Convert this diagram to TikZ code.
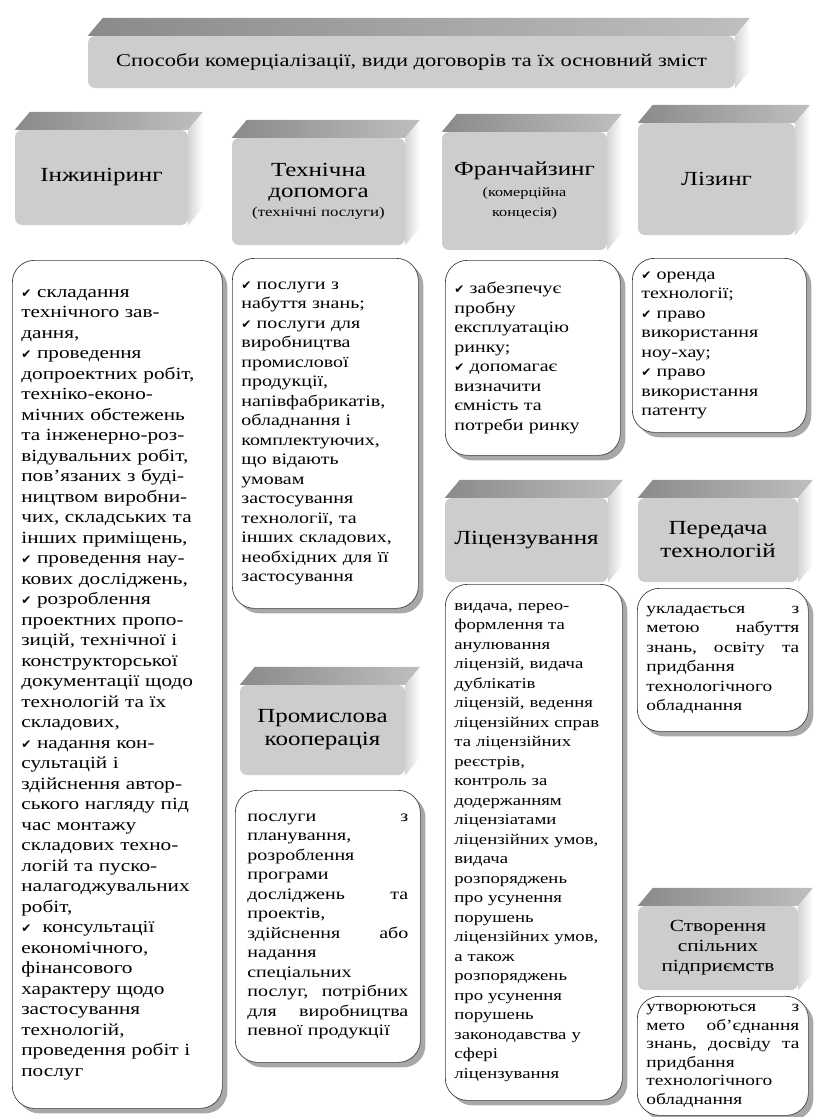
\documentclass[tikz,border=0pt]{standalone}
\usepackage{fontspec}
\setmainfont{Liberation Serif}[FakeStretch=1.25]
\newfontfamily\symfont{DejaVu Sans}
\usetikzlibrary{positioning,shadows,backgrounds}
\definecolor{frontgray}{HTML}{CDCDCD}
\definecolor{topgray}{HTML}{8A8A8A}
\definecolor{sidegray}{HTML}{D5D5D5}
\definecolor{shadowgray}{HTML}{A8A8A8}
\newcommand{\ck}{{\symfont\fontsize{12}{12}\selectfont ✔}~}

\begin{document}
\begin{tikzpicture}[x=1pt,y=-1pt,
	head/.style={fill=frontgray,rounded corners=7pt,align=center,inner sep=2pt,
		font=\fontsize{20}{23}\selectfont},
	body/.style={draw=black!75,line width=0.7pt,fill=white,rounded corners=22pt,
		anchor=north west,align=left,inner xsep=9pt,inner ysep=6pt,
		drop shadow={shadow xshift=5pt,shadow yshift=-5pt,fill=shadowgray,opacity=1},
		font=\fontsize{16}{19.5}\selectfont}]
	\useasboundingbox (0,0) rectangle (816,1117);
	
	\node[head,minimum width=647,minimum height=52,font=\fontsize{18}{21}\selectfont] (title) at (411.5,62)
	{Способи комерціалізації, види договорів та їх основний зміст};
	
	% headers
	\node[head,minimum width=173,minimum height=95] (hIng) at (101.5,177.5) {Інжиніринг};
	\node[head,minimum width=173,minimum height=107] (hTech) at (318.5,191.5)
	{Технічна\\[-2pt]допомога\\[-4pt]{\fontsize{13.5}{16}\selectfont(технічні послуги)}};
	\node[head,minimum width=165,minimum height=118] (hFran) at (524.5,191)
	{Франчайзинг\\[-2pt]{\fontsize{13}{16}\selectfont(комерційна}\\[-3pt]{\fontsize{13}{16}\selectfont концесія)}};
	\node[head,minimum width=157,minimum height=112] (hLiz) at (716.5,179) {Лізинг};
	\node[head,minimum width=165,minimum height=90] (hProm) at (322.5,730) {Промислова\\кооперація};
	\node[head,minimum width=163,minimum height=84] (hLic) at (526.5,540) {Ліцензування};
	\node[head,minimum width=160,minimum height=84] (hPer) at (718,540) {Передача\\технологій};
	\node[head,minimum width=160,minimum height=84,font=\fontsize{17}{20}\selectfont] (hStv) at (718,948)
	{Створення\\спільних\\підприємств};
	
	\begin{scope}[on background layer]
		\foreach \n in {title,hIng,hTech,hFran,hLiz,hProm,hLic,hPer,hStv}{
			\shade[left color=topgray,right color=topgray!55] (\n.north west) -- ++(15,-18)
			-- ([shift={(15,-18)}]\n.north east) -- (\n.north east) -- cycle;
			\shade[left color=sidegray,right color=white] (\n.north east) -- ++(15,-18)
			-- ([shift={(15,-18)}]\n.south east) -- (\n.south east) -- cycle;
		}
	\end{scope}
	
	% contents
	\node[body,text width=192,minimum height=848,font=\fontsize{17}{20.5}\selectfont] (bIng) at (12,260)
	{\ck складання\\
		технічного зав-\\
		дання,\\
		\ck проведення\\
		допроектних робіт,\\
		техніко-еконо-\\
		мічних обстежень\\
		та інженерно-роз-\\
		відувальних робіт,\\
		пов'язаних з буді-\\
		ництвом виробни-\\
		чих, складських та\\
		інших приміщень,\\
		\ck проведення нау-\\
		кових досліджень,\\
		\ck розроблення\\
		проектних пропо-\\
		зицій, технічної і\\
		конструкторської\\
		документації щодо\\
		технологій та їх\\
		складових,\\
		\ck надання кон-\\
		сультацій і\\
		здійснення автор-\\
		ського нагляду під\\
		час монтажу\\
		складових техно-\\
		логій та пуско-\\
		налагоджувальних\\
		робіт,\\
		\ck\ консультації\\
		економічного,\\
		фінансового\\
		характеру щодо\\
		застосування\\
		технологій,\\
		проведення робіт і\\
		послуг};
	\node[body,text width=168,minimum height=350] (bTech) at (232,258)
	{\ck послуги з\\
		набуття знань;\\
		\ck послуги для\\
		виробництва\\
		промислової\\
		продукції,\\
		напівфабрикатів,\\
		обладнання і\\
		комплектуючих,\\
		що відають\\
		умовам\\
		застосування\\
		технології, та\\
		інших складових,\\
		необхідних для її\\
		застосування};
	\node[body,text width=157,minimum height=195] (bFran) at (445,260)
	{\ck забезпечує\\
		пробну\\
		експлуатацію\\
		ринку;\\
		\ck допомагає\\
		визначити\\
		ємність та\\
		потреби ринку};
	\node[body,text width=156,minimum height=174] (bLiz) at (632,258)
	{\ck оренда\\
		технології;\\
		\ck право\\
		використання\\
		ноу-хау;\\
		\ck право\\
		використання\\
		патенту};
	\node[body,text width=161,minimum height=272,inner xsep=12pt] (bProm) at (235,790)
	{послуги \hfill з\\
		планування,\\
		розроблення\\
		програми\\
		досліджень \hfill та\\
		проектів,\\
		здійснення \hfill або\\
		надання\\
		спеціальних\\
		послуг, \hfill потрібних\\
		для \hfill виробництва\\
		певної продукції};
	\node[body,text width=159,minimum height=516,font=\fontsize{15}{19.5}\selectfont] (bLic) at (445,584)
	{видача, перео-\\
		формлення та\\
		анулювання\\
		ліцензій, видача\\
		дублікатів\\
		ліцензій, ведення\\
		ліцензійних справ\\
		та ліцензійних\\
		реєстрів,\\
		контроль за\\
		додержанням\\
		ліцензіатами\\
		ліцензійних умов,\\
		видача\\
		розпоряджень\\
		про усунення\\
		порушень\\
		ліцензійних умов,\\
		а також\\
		розпоряджень\\
		про усунення\\
		порушень\\
		законодавства у\\
		сфері\\
		ліцензування};
	\node[body,text width=153,minimum height=143,font=\fontsize{15.5}{19.5}\selectfont] (bPer) at (637,588)
	{укладається \hfill з\\
		метою \hfill набуття\\
		знань, \hfill освіту \hfill та\\
		придбання\\
		технологічного\\
		обладнання};
	\node[body,text width=153,minimum height=119,font=\fontsize{15.5}{18.5}\selectfont] (bStv) at (637,996)
	{утворюються \hfill з\\
		мето \hfill об'єднання\\
		знань, \hfill досвіду \hfill та\\
		придбання\\
		технологічного\\
		обладнання};
\end{tikzpicture}
\end{document}
